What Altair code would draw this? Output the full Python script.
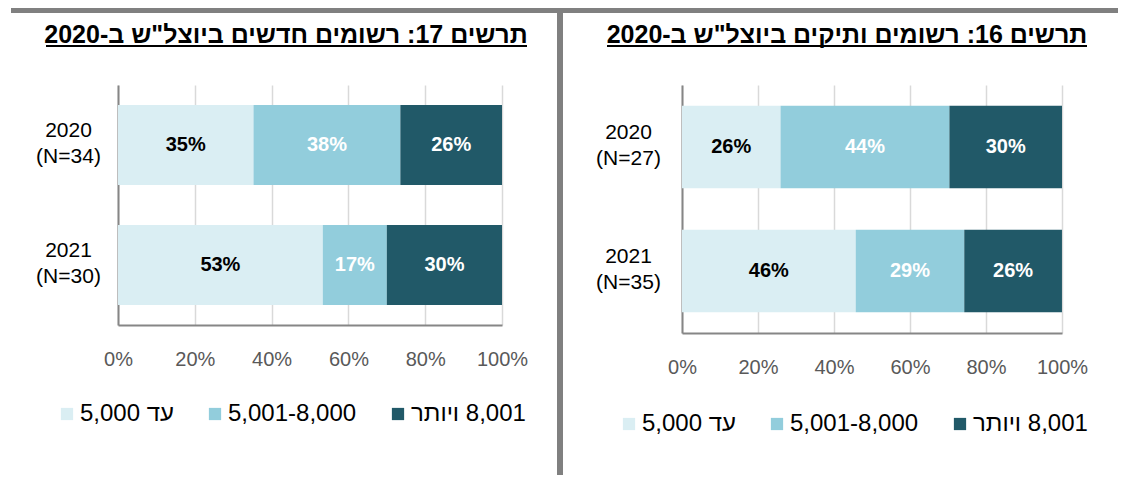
import altair as alt
import pandas as pd

# ---------------- data ----------------
years = ["2020", "2021"]
n_new = [34, 30]
n_old = [27, 35]
bands = ["עד 5,000", "5,001-8,000", "8,001 ויותר"]
colors = ["#DAEEF3", "#92CDDC", "#215968"]

new_low = [35.29, 53.33]
new_mid = [38.24, 16.67]
new_high = [26.47, 30.00]

old_low = [25.93, 45.71]
old_mid = [44.44, 28.57]
old_high = [29.63, 25.71]

tick_values = [0, 20, 40, 60, 80, 100]
title_new = "תרשים 17: רשומים חדשים ביוצל\"ש ב-2020"
title_old = "תרשים 16: רשומים ותיקים ביוצל\"ש ב-2020"

RLE, PDF = "\u202b", "\u202c"


def rtl(s):
    return RLE + s + PDF


FONT = "Liberation Sans"
GRAY = "#808080"


def make_df(ns, low, mid, high):
    rows = []
    for i, y in enumerate(years):
        for j, vals in enumerate([low, mid, high]):
            rows.append(dict(cat=f"{y}\n(N={ns[i]})", band=rtl(bands[j]), ord=j, pct=vals[i]))
    return pd.DataFrame(rows)


def box(x0, x1, y0, y1, color):
    return alt.Chart(pd.DataFrame({"a": [0]})).mark_rect(color=color, strokeWidth=0).encode(
        x=alt.value(x0), x2=alt.value(x1), y=alt.value(y0), y2=alt.value(y1)
    )


def panel(df, title, W, H, label_pad, title_x, ul0, ul1, leg_x, leg_y, extra=None):
    cats = list(df["cat"].unique())
    y = alt.Y(
        "cat:N",
        sort=cats,
        scale=alt.Scale(paddingInner=1 / 3, paddingOuter=1 / 6),
        axis=alt.Axis(
            title=None,
            labelExpr="split(datum.label, '\\n')",
            labelAlign="center",
            labelBaseline="middle",
            labelPadding=label_pad,
            labelOffset=-14,
            labelFontSize=21,
            labelFont=FONT,
            labelColor="black",
            labelLineHeight=26,
            ticks=False,
            tickSize=0,
            domainColor="#868686",
            domainWidth=2,
            grid=False,
        ),
    )
    x = alt.X(
        "pct:Q",
        stack="zero",
        scale=alt.Scale(domain=[0, 100], nice=False),
        axis=alt.Axis(
            title=None,
            values=tick_values,
            labelExpr="datum.value + '%'",
            labelFlush=False,
            grid=True,
            gridColor="#D9D9D9",
            gridWidth=1.5,
            ticks=False,
            tickSize=0,
            domainColor="#868686",
            domainWidth=2,
            labelPadding=24,
            labelFontSize=20,
            labelFont=FONT,
            labelColor="#595959",
        ),
    )
    color = alt.Color(
        "band:N",
        scale=alt.Scale(domain=[rtl(b) for b in bands], range=colors),
        legend=alt.Legend(
            title=None,
            orient="none",
            legendX=leg_x,
            legendY=leg_y,
            direction="horizontal",
            symbolType="square",
            symbolSize=150,
            symbolStrokeWidth=0,
            labelFontSize=24,
            labelFont=FONT,
            labelColor="black",
            labelOffset=1,
            columnPadding=29,
            padding=0,
            labelLimit=400,
        ),
    )
    bars = alt.Chart(df).mark_bar(strokeWidth=0).encode(
        x=x, y=y, color=color, order=alt.Order("ord:Q", sort="ascending")
    )
    labels = (
        alt.Chart(df)
        .transform_stack(stack="pct", groupby=["cat"], as_=["x0", "x1"], sort=[alt.SortField("ord")])
        .transform_calculate(mid="(datum.x0 + datum.x1) / 2", lab="format(datum.pct, '.0f') + '%'")
        .mark_text(font=FONT, fontWeight="bold", fontSize=20, align="center", baseline="middle")
        .encode(
            x=alt.X("mid:Q"),
            y=alt.Y("cat:N", sort=cats),
            text="lab:N",
            color=alt.condition("datum.ord == 0", alt.value("black"), alt.value("white")),
        )
    )
    ttl = alt.Chart(pd.DataFrame({"t": [rtl(title)]})).mark_text(
        font=FONT, fontWeight="bold", fontSize=25, align="center", baseline="alphabetic", color="black"
    ).encode(text="t:N", x=alt.value(title_x), y=alt.value(-42))
    underline = box(ul0, ul1, -40, -38, "black")
    layers = [bars, labels, ttl, underline]
    if extra:
        layers += extra
    return alt.layer(*layers).properties(width=W, height=H)


df_new = make_df(n_new, new_low, new_mid, new_high)
df_old = make_df(n_old, old_low, old_mid, old_high)

# frame: white anchor for the left edge, grey top line and grey divider
anchor = box(-110, -109, -20, -19, "white")
top_line = box(-107, 1000, -77, -72, GRAY)
divider = box(439, 445, -77, 390, GRAY)

left = panel(df_new, title_new, 384, 240, 50, 168, -72, 409, -63, 317,
             extra=[anchor, top_line, divider])
right = panel(df_old, title_old, 380, 248, 54, 165, -75, 405, -65, 327)

chart = (
    alt.hconcat(left, right, spacing=180, bounds="flush")
    .resolve_scale(color="independent")
    .resolve_legend(color="independent")
    .configure_view(stroke=None)
    .properties(padding=0, background="white")
)

chart.save("out.html", embed_options={"renderer": "svg", "actions": False})
